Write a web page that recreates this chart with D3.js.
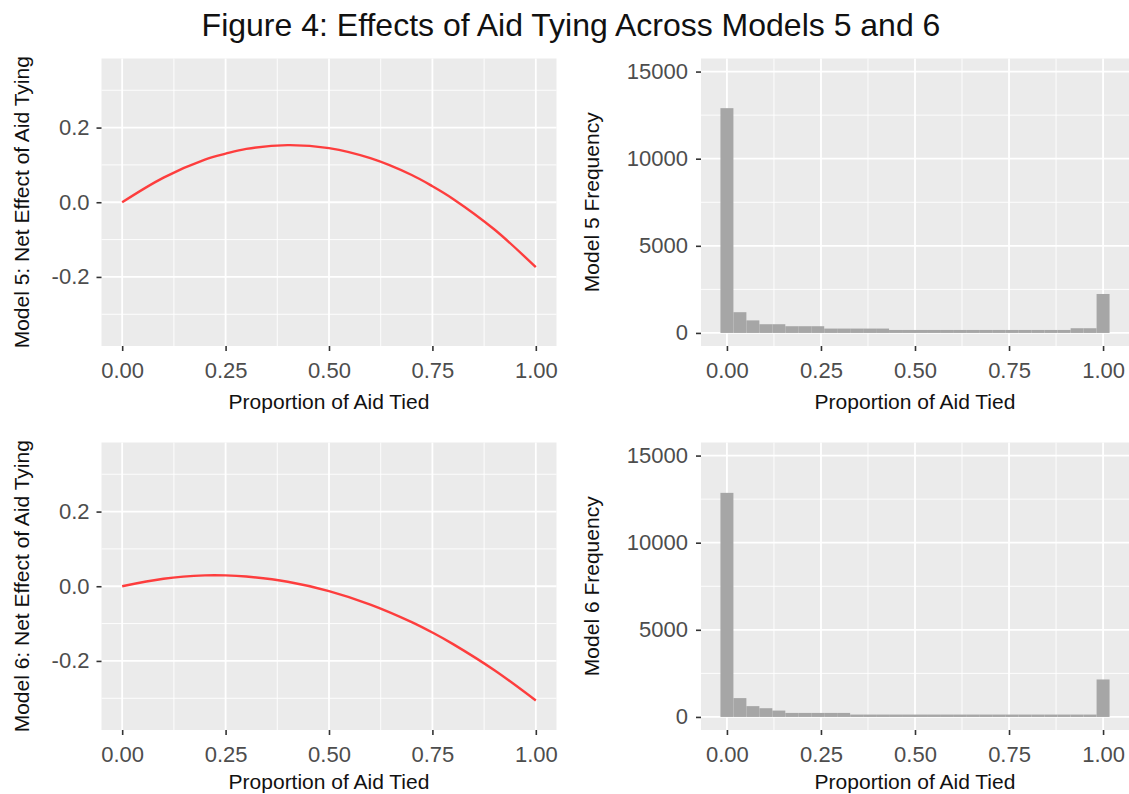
<!DOCTYPE html>
<html>
<head>
<meta charset="utf-8">
<script src="https://cdn.jsdelivr.net/npm/d3@7"></script>
<style>
  body { margin: 0; background: #fff; }
  text { font-family: "Liberation Sans", Arial, Helvetica, sans-serif; }
</style>
</head>
<body>
<div id="main"></div>
<script>
const W = 1129, H = 794;

// net effect curves (x = proportion of aid tied)
const tiedX = [0, 0.1, 0.2, 0.25, 0.3, 0.4, 0.5, 0.6, 0.7, 0.75, 0.8, 0.9, 1.0];
const model5Effect = [0, 0.066, 0.114, 0.130, 0.143, 0.153, 0.145, 0.118, 0.073, 0.043, 0.009, -0.073, -0.174];
const model6Effect = [0, 0.020, 0.029, 0.029, 0.026, 0.012, -0.013, -0.049, -0.096, -0.124, -0.155, -0.225, -0.306];

// histogram counts, 30 bins centred on 0, 1/29, ..., 1
const model5Counts = [12900, 1190, 720, 500, 500, 385, 385, 385, 250, 250, 250, 250, 250,
                      170, 170, 170, 170, 170, 170, 170, 170, 170, 170, 170, 170, 170, 170,
                      270, 270, 2235];
const model6Counts = [12860, 1080, 620, 500, 365, 230, 230, 230, 230, 230, 135, 135, 135,
                      135, 135, 135, 135, 135, 135, 135, 135, 135, 135, 135, 135, 135, 135,
                      135, 135, 2150];

const effectTicks = [-0.2, 0, 0.2];
const effectMinor = [-0.3, -0.1, 0.1, 0.3];
const propTicks = [0, 0.25, 0.5, 0.75, 1];
const propMinor = [0.125, 0.375, 0.625, 0.875];
const countTicks = [0, 5000, 10000, 15000];
const countMinor = [2500, 7500, 12500];

const svg = d3.select("#main").append("svg")
  .attr("width", W).attr("height", H);

svg.append("text")
  .attr("x", 571).attr("y", 36)
  .attr("text-anchor", "middle")
  .attr("font-size", 32)
  .attr("fill", "#111")
  .text("Figure 4: Effects of Aid Tying Across Models 5 and 6");

function panel(box, xDomain, yDomain, xMajor, xMinor, yMajor, yMinor, xFmt, yFmt, yTitle, yTitleX, yPad) {
  const x = d3.scaleLinear().domain(xDomain).range([box.left, box.right]);
  const y = d3.scaleLinear().domain(yDomain).range([box.bottom, box.top]);
  const g = svg.append("g");

  g.append("rect")
    .attr("x", box.left).attr("y", box.top)
    .attr("width", box.right - box.left).attr("height", box.bottom - box.top)
    .attr("fill", "#ebebeb");

  const grid = g.append("g").attr("stroke", "#fff");
  grid.selectAll(".mx").data(xMinor).join("line")
    .attr("x1", x).attr("x2", x).attr("y1", box.top).attr("y2", box.bottom)
    .attr("stroke-width", 0.9);
  grid.selectAll(".my").data(yMinor).join("line")
    .attr("y1", y).attr("y2", y).attr("x1", box.left).attr("x2", box.right)
    .attr("stroke-width", 0.9);
  grid.selectAll(".Mx").data(xMajor).join("line")
    .attr("x1", x).attr("x2", x).attr("y1", box.top).attr("y2", box.bottom)
    .attr("stroke-width", 1.8);
  grid.selectAll(".My").data(yMajor).join("line")
    .attr("y1", y).attr("y2", y).attr("x1", box.left).attr("x2", box.right)
    .attr("stroke-width", 1.8);

  const xAxis = g.append("g")
    .attr("transform", `translate(0,${box.bottom})`)
    .call(d3.axisBottom(x).tickValues(xMajor).tickFormat(xFmt).tickSize(5).tickPadding(11));
  const yAxis = g.append("g")
    .attr("transform", `translate(${box.left},0)`)
    .call(d3.axisLeft(y).tickValues(yMajor).tickFormat(yFmt).tickSize(5).tickPadding(yPad));
  [xAxis, yAxis].forEach(a => {
    a.select(".domain").remove();
    a.selectAll(".tick line").attr("stroke", "#333").attr("stroke-width", 1.6);
    a.selectAll(".tick text").attr("fill", "#4d4d4d").attr("font-size", 22)
      .style("font-family", '"Liberation Sans", Arial, sans-serif');
  });

  // keep the lower row's title inside the page
  g.append("text")
    .attr("x", (box.left + box.right) / 2).attr("y", Math.min(box.bottom + 63, H - 5))
    .attr("text-anchor", "middle").attr("font-size", 21).attr("fill", "#111")
    .text("Proportion of Aid Tied");

  g.append("text")
    .attr("transform", `translate(${yTitleX},${(box.top + box.bottom) / 2}) rotate(-90)`)
    .attr("text-anchor", "middle").attr("font-size", 21).attr("fill", "#111")
    .text(yTitle);

  return {g, x, y};
}

function effectPanel(top, bottom, values, title) {
  const box = {left: 101.5, right: 556.5, top: top, bottom: bottom};
  const p = panel(box, [-0.05, 1.05], [-0.385, 0.385], propTicks, propMinor,
                  effectTicks, effectMinor, d => d.toFixed(2), d => d.toFixed(1), title, 29, 7);
  const line = d3.line()
    .x((d, i) => p.x(tiedX[i]))
    .y(d => p.y(d))
    .curve(d3.curveCatmullRom);
  p.g.append("path")
    .datum(values)
    .attr("d", line)
    .attr("fill", "none")
    .attr("stroke", "#ff2a2a")
    .attr("stroke-opacity", 0.9)
    .attr("stroke-width", 2.4);
}

function histPanel(top, bottom, counts, title) {
  const box = {left: 701, right: 1129, top: top, bottom: bottom};
  const bw = 1 / 29;
  const p = panel(box, [-bw / 2 - 0.0517, 1 + bw / 2 + 0.0517], [-750, 15750],
                  propTicks, propMinor, countTicks, countMinor,
                  d => d.toFixed(2), d3.format("d"), title, 599, 8);
  p.g.selectAll(".bar").data(counts).join("rect")
    .attr("x", (d, i) => p.x(i * bw - bw / 2))
    .attr("width", (d, i) => p.x(i * bw + bw / 2) - p.x(i * bw - bw / 2))
    .attr("y", d => p.y(d))
    .attr("height", d => p.y(0) - p.y(d))
    .attr("fill", "#a6a6a6");
}

effectPanel(58.5, 346, model5Effect, "Model 5: Net Effect of Aid Tying");
histPanel(58.5, 346, model5Counts, "Model 5 Frequency");
effectPanel(442.5, 730, model6Effect, "Model 6: Net Effect of Aid Tying");
histPanel(442.5, 730, model6Counts, "Model 6 Frequency");
</script>
</body>
</html>
